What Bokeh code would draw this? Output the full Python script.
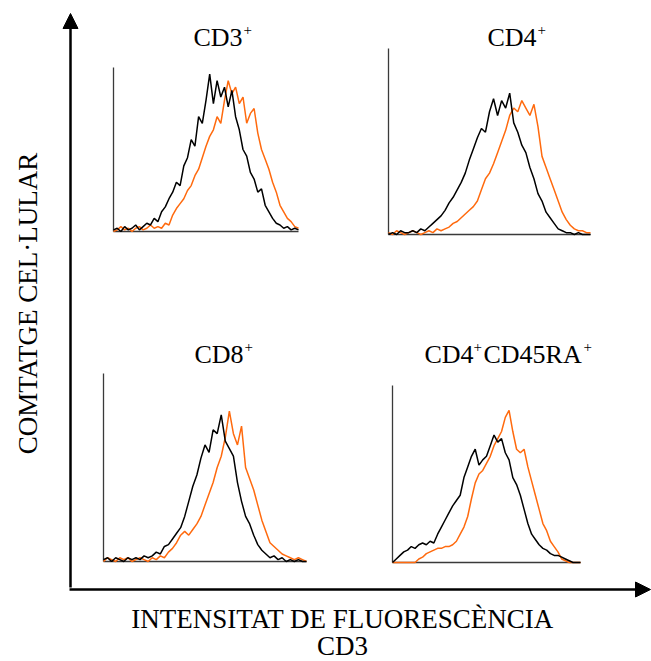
from bokeh.plotting import figure
from bokeh.models import Range1d, Label, Arrow, NormalHead
from bokeh.core.properties import value
from bokeh.embed import file_html
from bokeh.resources import INLINE
import math

# ---- data (channel 0..200, counts as % of panel height) ----
channels = list(range(0, 201, 4))

cd3_black = [1, 2, 0, 3, 1, 2, 4, 1, 3, 5, 4, 8, 6, 12, 15, 20, 24, 30, 28, 40, 45, 56, 52, 70, 66, 80,
             96, 78, 92, 82, 88, 76, 86, 70, 62, 50, 46, 36, 32, 24, 26, 16, 12, 8, 5, 4, 2, 3, 1, 2, 1]
cd3_orange = [0, 1, 3, 1, 2, 0, 2, 3, 1, 2, 4, 2, 3, 2, 5, 4, 10, 14, 17, 20, 25, 28, 34, 38, 45, 52,
              58, 62, 70, 66, 80, 92, 84, 88, 78, 82, 66, 72, 75, 60, 50, 44, 38, 30, 24, 16, 12, 8, 6, 3, 2]

cd4_black = [0, 1, 0, 2, 1, 1, 2, 1, 3, 2, 4, 6, 8, 10, 13, 17, 20, 24, 28, 33, 40, 46, 52, 57, 55, 66,
             73, 64, 72, 68, 76, 60, 55, 48, 44, 36, 30, 22, 18, 12, 9, 6, 3, 2, 1, 1, 0, 1, 0, 0, 0]
cd4_orange = [1, 0, 2, 1, 0, 1, 2, 1, 0, 1, 2, 1, 3, 2, 3, 4, 6, 7, 9, 11, 13, 15, 18, 24, 30, 33,
              38, 44, 50, 56, 64, 68, 66, 72, 68, 64, 70, 58, 42, 36, 30, 24, 18, 12, 8, 5, 3, 2, 2, 1, 1]

cd8_black = [1, 2, 0, 2, 1, 0, 2, 1, 2, 1, 3, 2, 3, 5, 4, 8, 9, 12, 15, 18, 24, 32, 40, 46, 55, 62,
             58, 70, 68, 78, 64, 60, 56, 42, 32, 24, 20, 14, 9, 6, 4, 2, 3, 1, 2, 0, 1, 0, 1, 0, 0]
cd8_orange = [0, 2, 1, 0, 2, 1, 2, 0, 1, 2, 1, 0, 2, 1, 3, 2, 5, 7, 10, 14, 16, 14, 17, 20, 24, 30,
              36, 42, 50, 56, 66, 80, 68, 62, 72, 50, 44, 38, 30, 22, 16, 10, 8, 6, 4, 3, 2, 1, 2, 1, 0]

cd45_black = [0, 2, 4, 6, 7, 9, 8, 10, 11, 10, 12, 11, 16, 20, 24, 28, 32, 35, 38, 48, 54, 60, 64, 55, 58, 60,
              66, 72, 68, 70, 62, 58, 48, 44, 38, 30, 22, 16, 13, 10, 8, 7, 5, 4, 4, 3, 2, 1, 0, 0, 0]
cd45_orange = [0, 0, 0, 0, 0, 0, 0, 2, 3, 5, 6, 7, 8, 8, 9, 9, 10, 12, 16, 20, 26, 36, 45, 50, 52, 56,
               60, 66, 70, 74, 82, 86, 74, 64, 62, 64, 54, 46, 38, 30, 22, 18, 12, 9, 6, 2, 1, 0, 0, 0, 0]

panel_titles = ["CD3", "CD4", "CD8", "CD4", "CD45RA"]
x_label_lines = ["INTENSITAT DE FLUORESCÈNCIA", "CD3"]
y_label = "COMTATGE CEL·LULAR"

series = [(cd3_black, cd3_orange), (cd4_black, cd4_orange), (cd8_black, cd8_orange), (cd45_black, cd45_orange)]

# ---- layout (pixel boxes of panels: left, right, baseline, top) ----
W, H = 651, 661
boxes = [(113, 298, 231, 67), (388, 590, 234, 48), (103, 306, 561, 373), (392, 580, 562, 385)]
ORANGE = "#ff6a0e"
FONT = "Liberation Serif"

p = figure(width=W, height=H, x_range=Range1d(0, W), y_range=Range1d(H, 0),
           x_axis_type=None, y_axis_type=None, toolbar_location=None,
           output_backend="svg", min_border=0, outline_line_color=None)
p.grid.visible = False
p.background_fill_color = "white"
p.border_fill_color = "white"

for i, ((L, R, B, T), (blk, org)) in enumerate(zip(boxes, series)):
    cmax = channels[-1]
    sx = cmax / (R - L)
    xr = Range1d(-L * sx, (W - L) * sx)
    s = 100.0 * H / (B - T)
    y0 = -s * (H - B) / H
    yr = Range1d(y0, y0 + s)
    xn, yn = f"px{i}", f"py{i}"
    p.extra_x_ranges[xn] = xr
    p.extra_y_ranges[yn] = yr
    p.segment(x0=[0, 0], y0=[0, 0], x1=[0, cmax], y1=[100, 0], x_range_name=xn, y_range_name=yn,
              line_color="#3a3a3a", line_width=1.3)
    p.line(channels, org, x_range_name=xn, y_range_name=yn, line_color=ORANGE, line_width=1.5)
    p.line(channels, blk, x_range_name=xn, y_range_name=yn, line_color="black", line_width=1.5)

# big axes arrows
p.add_layout(Arrow(end=NormalHead(size=15, fill_color="black", line_color="black"),
                   x_start=70, y_start=587, x_end=70, y_end=13, line_width=2.5, line_color="black"))
p.add_layout(Arrow(end=NormalHead(size=15, fill_color="black", line_color="black"),
                   x_start=69, y_start=589, x_end=650, y_end=589, line_width=2.5, line_color="black"))

def txt(x, y, t, size, align="left"):
    p.text(x=[x], y=[y], text=[t], text_font=value(FONT), text_font_size=f"{size}px",
           text_align=align, text_baseline="alphabetic", text_color="black")

TS = 26
# panel titles with superscript plus
txt(193, 37, panel_titles[0], TS)
txt(243, 29, "+", 15)
txt(487, 37, panel_titles[1], TS)
txt(537, 29, "+", 15)
txt(194, 354, panel_titles[2], TS)
txt(244, 346, "+", 15)
txt(424, 354, panel_titles[3], TS)
txt(473, 346, "+", 15)
txt(483, 354, panel_titles[4], TS)
txt(583, 346, "+", 15)

# axis labels
txt(342, 618, x_label_lines[0], 27, align="center")
txt(342, 645, x_label_lines[1], 27, align="center")
p.add_layout(Label(x=27, y=303, text=y_label, text_font=FONT, text_font_size="27px",
                   text_align="center", text_baseline="middle", angle=math.pi / 2, text_color="black"))

open("out.html", "w").write(file_html(p, INLINE))
